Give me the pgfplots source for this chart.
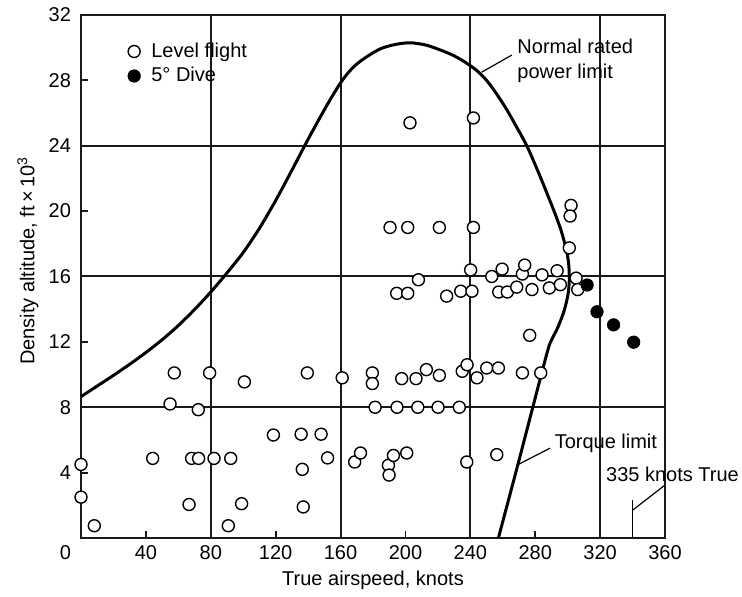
\documentclass[border=0pt]{standalone}
\usepackage{fontspec}
\setmainfont{Liberation Sans}
\usepackage{pgfplots}
\pgfplotsset{compat=1.18}
\begin{document}
\begin{tikzpicture}
\begin{axis}[
  scale only axis, width=292pt, height=261.5pt,
  xmin=0, xmax=360, ymin=0, ymax=32,
  xtick={40,80,...,360}, ytick={4,8,...,32},
  extra x ticks={80,160,240,320}, extra x tick labels={},
  extra y ticks={8,16,24}, extra y tick labels={},
  extra tick style={grid=major, major grid style={black!90, line width=1pt}},
  tick pos=left, tick align=inside, major tick length=3.5pt,
  axis line style={line width=1pt, black!90},
  every tick/.style={black!90, line width=0.9pt},
  /pgf/number format/assume math mode=true,
  tick label style={font=\fontsize{10}{12}\selectfont},
  yticklabel style={xshift=-1.5pt},
  label style={font=\fontsize{10}{12}\selectfont},
  xlabel={True airspeed, knots},
  ylabel={Density altitude, ft\,×\,10\textsuperscript{3}},
  every axis x label/.style={at={(axis description cs:0.5,-0.08)}, anchor=center},
  every axis y label/.style={at={(axis description cs:-0.091,0.53)}, anchor=center, rotate=90},
  clip=false,
  legend style={at={(axis cs:28.7,30.57)}, anchor=north west, draw=none, fill=none,
    font=\fontsize{10}{12}\selectfont, row sep=-0.5pt, column sep=3.5pt, inner sep=0pt},
  legend cell align=left,
  legend image code/.code={\draw[#1] plot coordinates {(0.1cm,0cm)};},
]
% power / torque limit curve
\addplot[black, line width=1.5pt, smooth, tension=0.5, forget plot] coordinates {
(0,8.65) (10,9.3) (20,9.95) (30,10.63) (40,11.35) (50,12.13) (60,13.0) (70,13.98)
(80,15.05) (90,16.22) (100,17.47) (110,18.95) (120,20.65) (130,22.5) (140,24.4)
(150,26.2) (155,27.05) (160,27.85) (165,28.5) (170,29.0) (177,29.5) (185,29.95)
(194,30.2) (203,30.3) (213,30.15) (223,29.8) (230,29.5) (237,29.1) (244,28.6)
(250,28.0) (256,27.2) (262.5,26.2) (268.5,25.15) (274.8,24.0) (281,22.6)
(287,21.15) (292,19.9) (296,18.8) (299,17.7) (300.6,16.8) (301,15.8) (300.2,14.9)
(297.8,13.9) (294,12.9) (290,12.1) (287.5,11.4) (278.5,8) (269.6,4.6) (257.3,0)
};
\addplot[only marks, mark=*, mark size=3pt, mark options={fill=white, draw=black, line width=0.7pt}] coordinates {
(0,4.5) (0,2.5) (8.2,0.75) (44.2,4.87) (68.2,4.87) (72.5,4.87) (82,4.87) (92.3,4.87)
(66.6,2.05) (90.8,0.75) (57.5,10.1) (79.3,10.1) (54.9,8.2) (72.3,7.85)
(100.7,9.55) (99,2.1) (118.6,6.3) (135.7,6.35) (148,6.35) (136.4,4.2) (137,1.9)
(139.5,10.1) (152,4.9) (161,9.8) (168.7,4.65) (172.3,5.2) (179.6,10.1) (179.6,9.45)
(181.3,8) (194.8,8) (207.6,8) (220.1,8) (233.2,8)
(197.7,9.75) (206.5,9.75) (212.9,10.3) (220.9,9.95) (235,10.2) (238,10.6) (244.1,9.8)
(250.1,10.4) (257.3,10.4)
(189.5,4.45) (192.6,5.05) (189.9,3.85) (200.8,5.2) (237.8,4.65) (256.3,5.1)
(272.1,10.1) (283.4,10.1) (276.6,12.4)
(202.8,25.4) (241.9,25.7)
(190.5,19) (201.4,19) (220.9,19) (241.9,19)
(302.1,20.35) (301.5,19.7) (301,17.75)
(208,15.8) (194.6,14.97) (201.4,14.97) (225.4,14.8) (234.1,15.1) (241,15.1) (240.2,16.4)
(253.2,16) (259.6,16.45) (257.5,15.05) (262.8,15.05) (268.6,15.35) (272.1,16.15)
(273.5,16.7) (278,15.2) (284.2,16.1) (288.7,15.3) (293.5,16.35) (295.5,15.5)
(305.2,15.9) (306.2,15.2)
};
\addlegendentry{Level flight}
\addplot[only marks, mark=*, mark size=3.1pt, mark options={fill=black, draw=black}] coordinates {
(312,15.48) (318.1,13.84) (328.3,13.04) (340.7,11.98)
};
\addlegendentry{5° Dive}
% annotations
\draw[line width=0.6pt] (247,28.5) -- (265.6,29.55);
\node[anchor=west, align=left, inner sep=0pt, font=\fontsize{10}{12.5}\selectfont] at (268.8,29.2) {Normal rated\\power limit};
\draw[line width=0.6pt] (269.6,4.5) -- (289.2,5.5);
\node[anchor=west, inner sep=0pt, font=\fontsize{10}{12}\selectfont] at (291.8,5.8) {Torque limit};
\draw[line width=0.8pt] (340,0) -- (340,2.3);
\draw[line width=0.6pt] (340,1.7) -- (359.5,3.2);
\node[anchor=west, inner sep=0pt, font=\fontsize{10}{12}\selectfont] at (323.5,3.9) {335 knots True};
\node[anchor=north east, xshift=-1.5pt, font=\fontsize{10}{12}\selectfont] at (rel axis cs:0,0) {0};
\end{axis}
\path ([shift={(-40.5pt,-29.5pt)}]current axis.south west) rectangle ([shift={(38.5pt,7.5pt)}]current axis.north east);
\end{tikzpicture}
\end{document}
